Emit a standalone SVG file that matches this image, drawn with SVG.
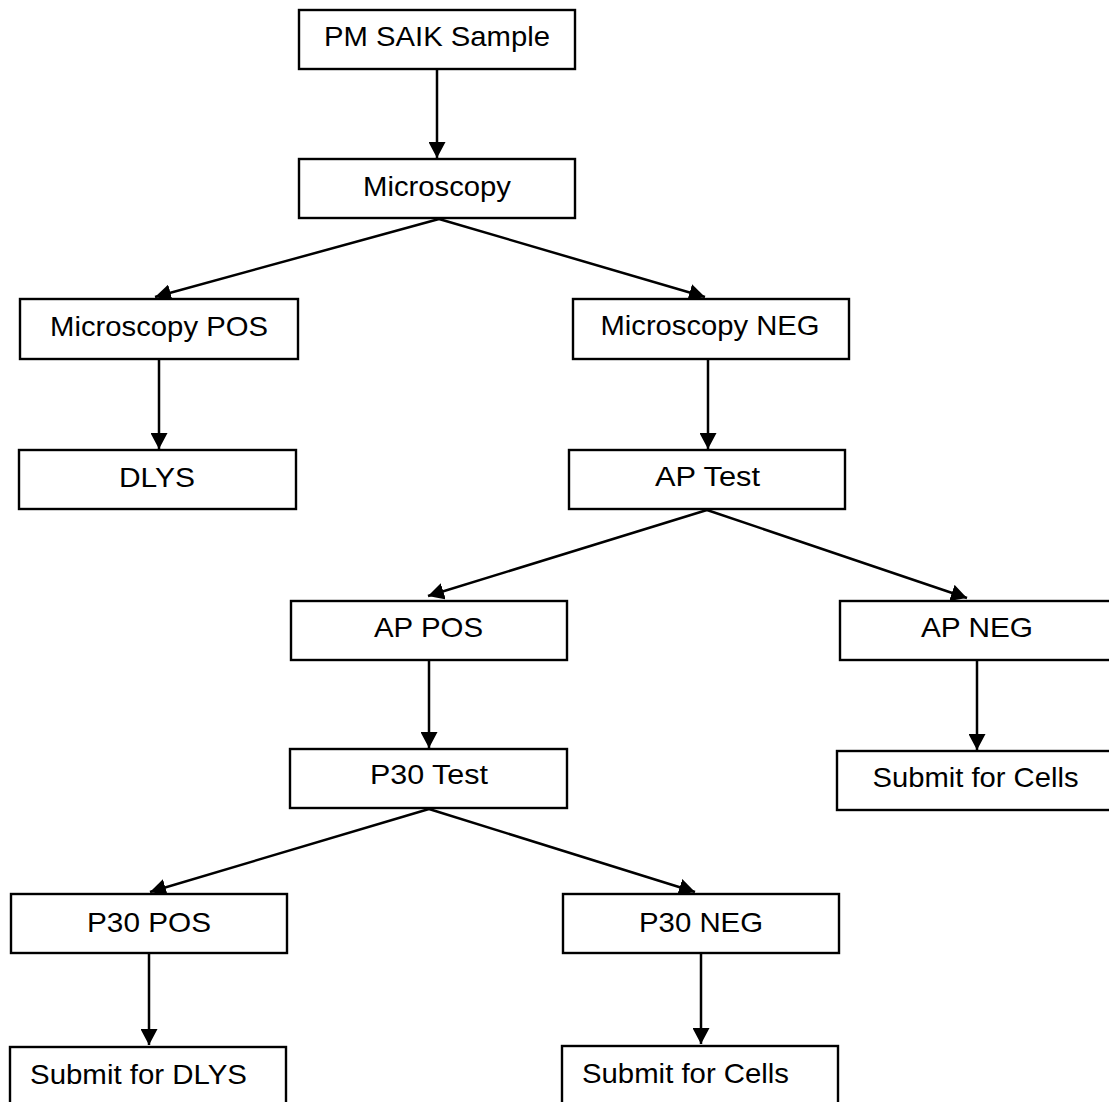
<svg xmlns="http://www.w3.org/2000/svg" width="1109" height="1102" viewBox="0 0 1109 1102">
<defs>
<style>
.box{fill:#fff;stroke:#000;stroke-width:2.4}
.lbl{font-family:"Liberation Sans",Arial,sans-serif;font-size:27.5px;fill:#000}
.c{text-anchor:middle}
.edge{stroke:#000;stroke-width:2.5;fill:none;marker-end:url(#ah)}
</style>
<marker id="ah" markerUnits="userSpaceOnUse" markerWidth="17" markerHeight="17" refX="16" refY="8.5" orient="auto">
<path d="M0,0 L16,8.5 L0,17 z" fill="#000"/>
</marker>
</defs>
<rect width="1109" height="1102" fill="#fff"/>
<g id="connectors">
<line class="edge" x1="437" y1="70" x2="437" y2="158"/>
<line class="edge" x1="439" y1="219" x2="155" y2="297"/>
<line class="edge" x1="439" y1="219" x2="705" y2="297"/>
<line class="edge" x1="159" y1="360" x2="159" y2="449"/>
<line class="edge" x1="708" y1="360" x2="708" y2="449"/>
<line class="edge" x1="707" y1="510" x2="428" y2="596"/>
<line class="edge" x1="707" y1="510" x2="967" y2="598"/>
<line class="edge" x1="429" y1="661" x2="429" y2="748"/>
<line class="edge" x1="977" y1="661" x2="977" y2="750"/>
<line class="edge" x1="429" y1="809" x2="150" y2="892"/>
<line class="edge" x1="429" y1="809" x2="695" y2="892"/>
<line class="edge" x1="149" y1="954" x2="149" y2="1045"/>
<line class="edge" x1="701" y1="954" x2="701" y2="1044"/>
</g>
<g id="n1"><rect class="box" x="299" y="10" width="276" height="59"/><text class="lbl c" x="437" y="46" textLength="226" lengthAdjust="spacingAndGlyphs">PM SAIK Sample</text></g>
<g id="n2"><rect class="box" x="299" y="159" width="276" height="59"/><text class="lbl c" x="437" y="196" textLength="148" lengthAdjust="spacingAndGlyphs">Microscopy</text></g>
<g id="n3"><rect class="box" x="20" y="299" width="278" height="60"/><text class="lbl c" x="159" y="336" textLength="218" lengthAdjust="spacingAndGlyphs">Microscopy POS</text></g>
<g id="n4"><rect class="box" x="19" y="450" width="277" height="59"/><text class="lbl c" x="157" y="487" textLength="76" lengthAdjust="spacingAndGlyphs">DLYS</text></g>
<g id="n5"><rect class="box" x="573" y="299" width="276" height="60"/><text class="lbl c" x="710" y="335" textLength="219" lengthAdjust="spacingAndGlyphs">Microscopy NEG</text></g>
<g id="n6"><rect class="box" x="569" y="450" width="276" height="59"/><text class="lbl c" x="707.5" y="486" textLength="105" lengthAdjust="spacingAndGlyphs">AP Test</text></g>
<g id="n7"><rect class="box" x="291" y="601" width="276" height="59"/><text class="lbl c" x="428.5" y="637" textLength="109" lengthAdjust="spacingAndGlyphs">AP POS</text></g>
<g id="n8"><rect class="box" x="840" y="601" width="280" height="59"/><text class="lbl c" x="977" y="637" textLength="112" lengthAdjust="spacingAndGlyphs">AP NEG</text></g>
<g id="n9"><rect class="box" x="290" y="749" width="277" height="59"/><text class="lbl c" x="429" y="784" textLength="118" lengthAdjust="spacingAndGlyphs">P30 Test</text></g>
<g id="n10"><rect class="box" x="837" y="751" width="280" height="59"/><text class="lbl c" x="975.5" y="787" textLength="206" lengthAdjust="spacingAndGlyphs">Submit for Cells</text></g>
<g id="n11"><rect class="box" x="11" y="894" width="276" height="59"/><text class="lbl c" x="149" y="932" textLength="124" lengthAdjust="spacingAndGlyphs">P30 POS</text></g>
<g id="n12"><rect class="box" x="563" y="894" width="276" height="59"/><text class="lbl c" x="701" y="932" textLength="124" lengthAdjust="spacingAndGlyphs">P30 NEG</text></g>
<g id="n13"><rect class="box" x="10" y="1047" width="276" height="70"/><text class="lbl" x="30" y="1084" textLength="217" lengthAdjust="spacingAndGlyphs">Submit for DLYS</text></g>
<g id="n14"><rect class="box" x="562" y="1046" width="276" height="70"/><text class="lbl" x="582" y="1082.5" textLength="207" lengthAdjust="spacingAndGlyphs">Submit for Cells</text></g>
</svg>
